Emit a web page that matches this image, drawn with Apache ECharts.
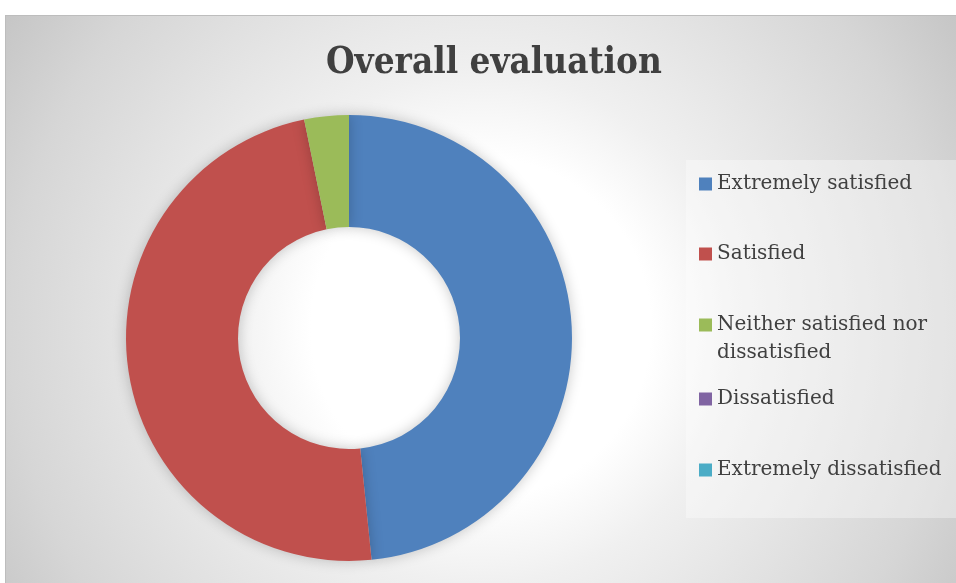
<!DOCTYPE html>
<html><head><meta charset="utf-8">
<script src="https://cdn.jsdelivr.net/npm/echarts@6/dist/echarts.min.js"></script>
<style>
html,body{margin:0;padding:0;background:#fff;}
#c{position:absolute;left:5px;top:15px;width:951px;height:568px;border-top:1px solid #bdbdbd;border-left:1px solid #bdbdbd;box-sizing:border-box;}
</style></head><body>
<div id="c"></div>
<script>
const categories = ['Extremely satisfied','Satisfied','Neither satisfied nor dissatisfied','Dissatisfied','Extremely dissatisfied'];
const values = [15, 15, 1, 0, 0];
const colors = ['#4f81bd','#c0504d','#9bbb59','#8064a2','#4bacc6'];
const legendTops = [149, 219, 262, 364, 435];

const chart = echarts.init(document.getElementById('c'));
const font = '"DejaVu Serif", serif';
const titleFont = '"DejaVu Serif Condensed", "DejaVu Serif", serif';
const twoLine = 'Neither satisfied nor dissatisfied';
chart.setOption({
  backgroundColor: {type:'radial', x:0.5, y:0.55, r:1.0,
    colorStops:[{offset:0,color:'#ffffff'},{offset:0.3,color:'#ffffff'},{offset:0.45,color:'#f0f0f0'},{offset:0.83,color:'#d6d6d6'},{offset:1,color:'#c6c6c6'}]},
  title: {text:'Overall evaluation', left:315, top:24,
    textStyle:{fontFamily:titleFont, fontWeight:'bold', fontSize:36.5, color:'#404040'}},
  graphic: [{type:'rect', shape:{x:680, y:144, width:271, height:358},
    style:{fill:'rgba(255,255,255,0.35)'}, silent:true, z:0}],
  legend: categories.map((c,i)=>({
    data:[c], orient:'vertical', left:688, top:legendTops[i], icon:'rect',
    itemWidth:13, itemHeight:13, itemGap:0,
    formatter: n => n === twoLine ? ' \nNeither satisfied nor\ndissatisfied' : n,
    textStyle: {fontFamily:font, fontSize:20, color:'#404040', lineHeight:28}
  })),
  series: [{type:'pie', radius:[111,223], center:[343,322], startAngle:90, clockwise:true,
    label:{show:false}, labelLine:{show:false}, silent:true,
    itemStyle:{shadowBlur:14, shadowColor:'rgba(0,0,0,0.22)'},
    emphasis:{disabled:true},
    data: categories.map((c,i)=>({name:c, value:values[i], itemStyle:{color:colors[i]}}))
  }]
});
</script></body></html>
